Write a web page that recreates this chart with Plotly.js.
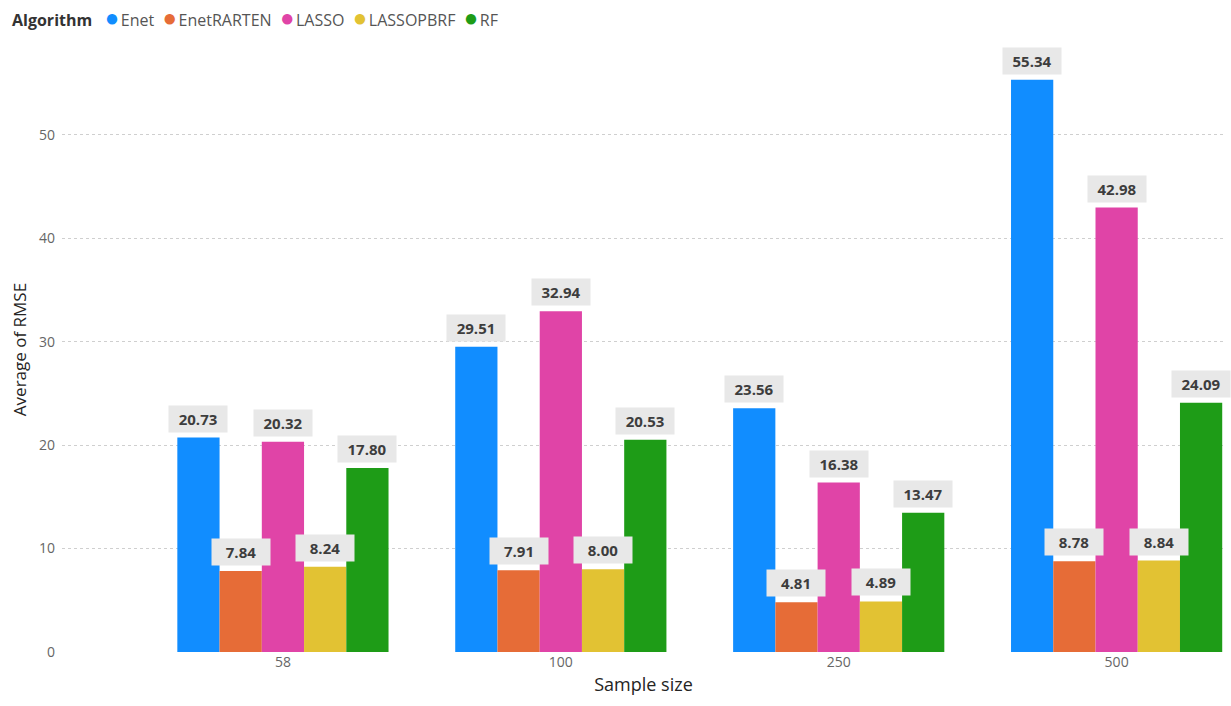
<!DOCTYPE html>
<html>
<head>
<meta charset="utf-8">
<script src="https://cdn.plot.ly/plotly-3.0.1.min.js"></script>
<style>html,body{margin:0;padding:0;background:#fff;}#chart{width:1231px;height:706px;}</style>
</head>
<body>
<div id="chart"></div>
<script>
const categories = ["58", "100", "250", "500"];
const seriesNames = ["Enet", "EnetRARTEN", "LASSO", "LASSOPBRF", "RF"];
const enet = [20.73, 29.51, 23.56, 55.34];
const enetRarten = [7.84, 7.91, 4.81, 8.78];
const lasso = [20.32, 32.94, 16.38, 42.98];
const lassoPbrf = [8.24, 8.00, 4.89, 8.84];
const rf = [17.80, 20.53, 13.47, 24.09];
const yTicks = [0, 10, 20, 30, 40, 50];
const legendTitle = "Algorithm";

const seriesValues = [enet, enetRarten, lasso, lassoPbrf, rf];
const colors = ["#118DFF", "#E66C37", "#E044A7", "#E2C233", "#1E9C17"];
const FONT = "Open Sans, Noto Sans, sans-serif";
const bargap = 0.24;
const barW = (1 - bargap) / seriesNames.length;

const traces = [];
seriesNames.forEach((name, i) => {
  traces.push({
    type: "bar", name: name, x: categories, y: seriesValues[i],
    marker: {color: colors[i]}, showlegend: false, hoverinfo: "x+y+name"
  });
});

const annotations = [];
seriesNames.forEach((name, i) => {
  seriesValues[i].forEach((v, j) => {
    annotations.push({
      x: j + (i - (seriesNames.length - 1) / 2) * barW, y: v,
      xref: "x", yref: "y", text: "<b>" + v.toFixed(2) + "</b>",
      showarrow: false, yanchor: "bottom", yshift: 5,
      bgcolor: "#e8e8e8", borderpad: 3, width: 52, height: 20,
      font: {family: FONT, size: 15, color: "#3d3d3d"}
    });
  });
});

// compact legend drawn as text
let legText = '<b><span style="color:#333">' + legendTitle + '</span></b>&nbsp;&nbsp;&nbsp;';
seriesNames.forEach((name, i) => {
  legText += '<span style="color:' + colors[i] + ';font-size:24px">●</span>&#8202;' + name + (i < seriesNames.length - 1 ? '&nbsp;&nbsp;' : '');
});
annotations.push({
  xref: "paper", yref: "paper", x: 0, y: 1, xanchor: "left", yanchor: "middle",
  xshift: -52, yshift: 31, showarrow: false, text: legText, align: "left",
  font: {family: FONT, size: 16, color: "#555"}
});

const layout = {
  width: 1231, height: 706,
  margin: {l: 62, r: 6, t: 47, b: 54},
  paper_bgcolor: "#fff", plot_bgcolor: "#fff",
  barmode: "group", bargap: bargap, bargroupgap: 0,
  font: {family: FONT, color: "#666"},
  showlegend: false,
  xaxis: {
    type: "category", range: [-0.795, 3.39],
    showgrid: false, zeroline: false, showline: false, ticks: "",
    tickfont: {family: FONT, size: 14, color: "#666"},
    title: {text: "Sample size", font: {family: FONT, size: 18, color: "#252423"}, standoff: 8}
  },
  yaxis: {
    range: [0, 58.5], tickvals: yTicks, ticktext: yTicks.map(String),
    showgrid: true, gridcolor: "#cfcfcf", griddash: "dot", gridwidth: 1,
    zeroline: false, showline: false, ticks: "",
    tickfont: {family: FONT, size: 14, color: "#666"},
    ticklabelstandoff: 6,
    title: {text: "Average of RMSE", font: {family: FONT, size: 17, color: "#252423"}, standoff: 8}
  },
  annotations: annotations
};

Plotly.newPlot("chart", traces, layout, {displayModeBar: false, responsive: false});
</script>
</body>
</html>
